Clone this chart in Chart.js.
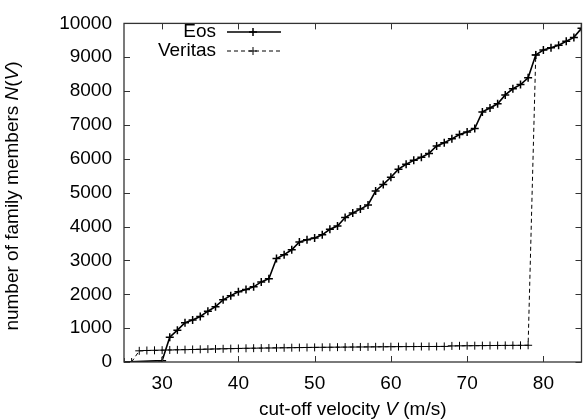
<!DOCTYPE html>
<html>
<head>
<meta charset="utf-8">
<script src="https://cdn.jsdelivr.net/npm/chart.js@4/dist/chart.umd.min.js"></script>
<style>
  html, body { margin: 0; padding: 0; background: #fff; }
  #wrap { width: 587px; height: 420px; }
</style>
</head>
<body>
<div id="wrap"><canvas id="chart" width="587" height="420"></canvas></div>
<script>
/* ---- data ---- */

const eosVelocity = [25, 30, 31, 32, 33, 34, 35, 36, 37, 38, 39, 40, 41, 42, 43, 44, 45, 46, 47, 48, 49,
    50, 51, 52, 53, 54, 55, 56, 57, 58, 59, 60, 61, 62, 63, 64, 65, 66, 67, 68, 69,
    70, 71, 72, 73, 74, 75, 76, 77, 78, 79, 80, 81, 82, 83, 84, 85];

const eosMembers = [0, 40, 730, 940, 1160, 1240, 1345, 1500, 1635, 1835, 1960, 2075, 2140, 2220, 2365, 2460, 3055, 3170, 3315, 3545, 3610,
    3660, 3755, 3920, 4015, 4265, 4400, 4515, 4640, 5050, 5245, 5455, 5695, 5840, 5955, 6045, 6160, 6380, 6475, 6590, 6720,
    6790, 6897, 7386, 7502, 7627, 7887, 8069, 8193, 8395, 9069, 9213, 9280, 9357, 9472, 9587, 9856];

const veritasVelocity = [26, 27, 28, 29, 30, 31, 32, 33, 34, 35, 36, 37, 38, 39, 40, 41, 42, 43, 44, 45, 46, 47, 48, 49,
    50, 51, 52, 53, 54, 55, 56, 57, 58, 59, 60, 61, 62, 63, 64, 65, 66, 67, 68, 69,
    70, 71, 72, 73, 74, 75, 76, 77, 78, 79];

const veritasMembers = [0, 330, 340, 345, 350, 355, 360, 365, 370, 375, 380, 385, 390, 395, 400, 405, 408, 411, 414, 417, 420, 423, 426, 429,
    432, 434, 436, 438, 440, 442, 444, 446, 448, 450, 452, 454, 455, 456, 457, 458, 459, 460, 475, 478,
    480, 482, 484, 486, 488, 490, 491, 492, 494, 9069];

const xTicks = [30, 40, 50, 60, 70, 80];
const yTicks = [0, 1000, 2000, 3000, 4000, 5000, 6000, 7000, 8000, 9000, 10000];

const FONT = "'Liberation Sans', Arial, Helvetica, sans-serif";
const FS = 19;

function toPoints(xs, ys) {
    return xs.map((x, i) => ({ x: x, y: ys[i] }));
}

/* ---- frame, inward ticks, axis titles and legend (gnuplot look) ---- */

const gnuplotFrame = {
    id: "gnuplotFrame",
    afterDraw(chart) {
        const ctx = chart.ctx;
        const a = chart.chartArea;
        const xs = chart.scales.x;
        const ys = chart.scales.y;
        const tl = 6;

        ctx.save();
        ctx.strokeStyle = "#333";
        ctx.lineWidth = 1.3;
        ctx.strokeRect(a.left, a.top, a.right - a.left, a.bottom - a.top);

        ctx.lineWidth = 1;
        ctx.beginPath();
        xTicks.forEach(v => {
            const px = Math.round(xs.getPixelForValue(v)) + 0.5;
            ctx.moveTo(px, a.bottom);
            ctx.lineTo(px, a.bottom - tl);
            ctx.moveTo(px, a.top);
            ctx.lineTo(px, a.top + tl);
        });
        yTicks.forEach(v => {
            const py = Math.round(ys.getPixelForValue(v)) + 0.5;
            ctx.moveTo(a.left, py);
            ctx.lineTo(a.left + tl, py);
            ctx.moveTo(a.right, py);
            ctx.lineTo(a.right - tl, py);
        });
        ctx.stroke();

        // axis titles with italic symbols
        ctx.fillStyle = "#000";
        ctx.textBaseline = "middle";

        const drawParts = (parts, cx, cy) => {
            let total = 0;
            parts.forEach(p => {
                ctx.font = (p.it ? "italic " : "") + FS + "px " + FONT;
                p.w = ctx.measureText(p.t).width;
                total += p.w;
            });
            let x = cx - total / 2;
            ctx.textAlign = "left";
            parts.forEach(p => {
                ctx.font = (p.it ? "italic " : "") + FS + "px " + FONT;
                ctx.fillText(p.t, x, cy);
                x += p.w;
            });
        };

        drawParts([
            { t: "cut-off velocity " },
            { t: "V", it: true },
            { t: " (m/s)" }
        ], (a.left + a.right) / 2, 410);

        ctx.save();
        ctx.translate(13, 196);
        ctx.rotate(-Math.PI / 2);
        drawParts([
            { t: "number of family members " },
            { t: "N", it: true },
            { t: "(" },
            { t: "V", it: true },
            { t: ")" }
        ], 0, 0);
        ctx.restore();

        // legend
        const rows = [
            { label: "Eos", y: 32, dash: [], width: 1.5 },
            { label: "Veritas", y: 51, dash: [4, 3], width: 1 }
        ];
        rows.forEach(r => {
            ctx.font = FS + "px " + FONT;
            ctx.textAlign = "right";
            ctx.fillStyle = "#000";
            ctx.fillText(r.label, 216, r.y);
            ctx.strokeStyle = "#000";
            ctx.lineWidth = r.width;
            ctx.setLineDash(r.dash);
            ctx.beginPath();
            ctx.moveTo(227, r.y);
            ctx.lineTo(281, r.y);
            ctx.stroke();
            ctx.setLineDash([]);
            ctx.beginPath();
            ctx.moveTo(249, r.y);
            ctx.lineTo(257, r.y);
            ctx.moveTo(253, r.y - 4);
            ctx.lineTo(253, r.y + 4);
            ctx.stroke();
        });

        ctx.restore();
    }
};

new Chart(document.getElementById("chart"), {
    type: "scatter",
    data: {
        datasets: [
            {
                label: "Eos",
                data: toPoints(eosVelocity, eosMembers),
                showLine: true,
                borderColor: "#000",
                backgroundColor: "#000",
                borderWidth: 1.6,
                pointStyle: "cross",
                pointRadius: 4,
                pointBorderWidth: 1.5,
                pointHoverRadius: 4
            },
            {
                label: "Veritas",
                data: toPoints(veritasVelocity, veritasMembers),
                showLine: true,
                borderColor: "#000",
                backgroundColor: "#000",
                borderWidth: 1,
                borderDash: [4, 3],
                pointStyle: "cross",
                pointRadius: 4,
                pointBorderWidth: 1,
                pointHoverRadius: 4
            }
        ]
    },
    options: {
        responsive: false,
        animation: false,
        events: [],
        layout: {
            padding: { top: 15, right: 4, left: 0, bottom: 0 }
        },
        plugins: {
            legend: { display: false },
            tooltip: { enabled: false }
        },
        scales: {
            x: {
                type: "linear",
                min: 25,
                max: 85,
                afterBuildTicks: s => { s.ticks = xTicks.map(v => ({ value: v })); },
                afterFit: s => { s.height = 58; },
                grid: { display: false, drawTicks: false },
                border: { display: false },
                ticks: {
                    color: "#000",
                    padding: 10,
                    font: { family: FONT, size: FS },
                    callback: v => String(v)
                }
            },
            y: {
                type: "linear",
                min: 0,
                max: 10000,
                afterBuildTicks: s => { s.ticks = yTicks.map(v => ({ value: v })); },
                afterFit: s => { s.width = 124; },
                grid: { display: false, drawTicks: false },
                border: { display: false },
                ticks: {
                    color: "#000",
                    padding: 12,
                    font: { family: FONT, size: FS },
                    callback: v => String(v)
                }
            }
        }
    },
    plugins: [gnuplotFrame]
});
</script>
</body>
</html>
